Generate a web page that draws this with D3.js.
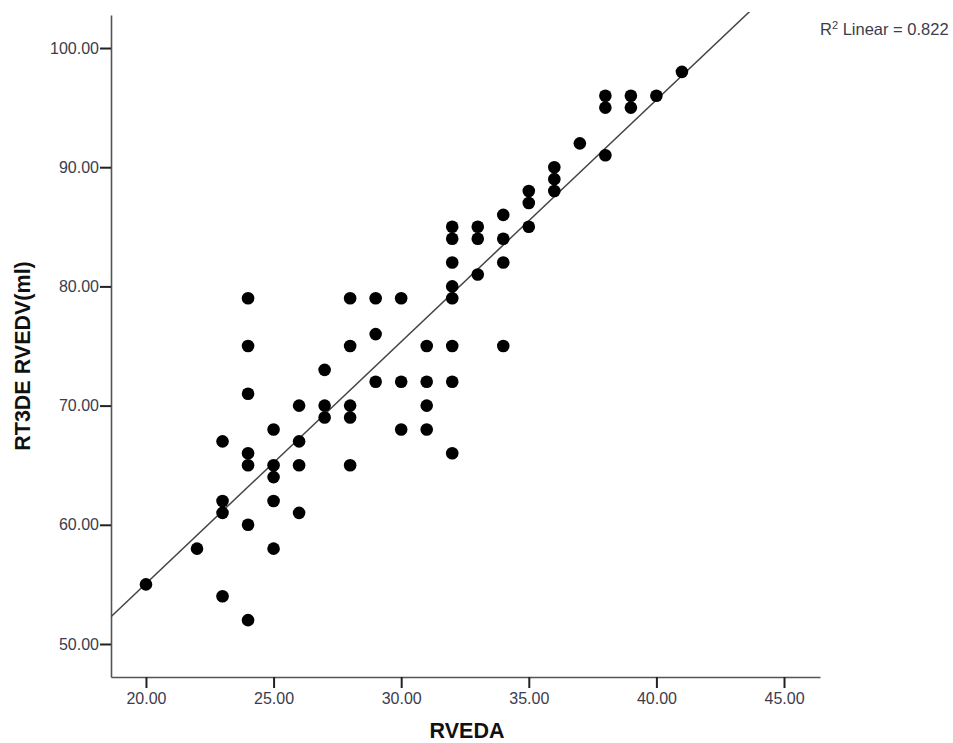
<!DOCTYPE html>
<html>
<head>
<meta charset="utf-8">
<script src="https://cdn.jsdelivr.net/npm/d3@7"></script>
<style>
  html, body { margin: 0; padding: 0; background: #fff; }
  svg { display: block; }
  text { font-family: "Liberation Sans", Arial, Helvetica, sans-serif; }
</style>
</head>
<body>
<svg id="chart" width="953" height="743"></svg>
<script>
// RVEDA values (x)
const rveda = [
  20,
  22,
  23, 23, 23, 23,
  24, 24, 24, 24, 24, 24, 24,
  25, 25, 25, 25, 25,
  26, 26, 26, 26,
  27, 27, 27,
  28, 28, 28, 28, 28,
  29, 29, 29,
  30, 30, 30,
  31, 31, 31, 31,
  32, 32, 32, 32, 32, 32, 32, 32,
  33, 33, 33,
  34, 34, 34, 34,
  35, 35, 35,
  36, 36, 36,
  37,
  38, 38, 38,
  39, 39,
  40,
  41
];
// RT3DE RVEDV(ml) values (y)
const rvedv = [
  55,
  58,
  67, 62, 61, 54,
  79, 75, 71, 66, 65, 60, 52,
  68, 65, 64, 62, 58,
  70, 67, 65, 61,
  73, 70, 69,
  79, 75, 70, 69, 65,
  79, 76, 72,
  79, 72, 68,
  75, 72, 70, 68,
  85, 84, 82, 80, 79, 75, 72, 66,
  85, 84, 81,
  86, 84, 82, 75,
  88, 87, 85,
  90, 89, 88,
  92,
  96, 95, 91,
  96, 95,
  96,
  98
];
const xTicks = [20, 25, 30, 35, 40, 45];
const yTicks = [50, 60, 70, 80, 90, 100];
const xDomain = [18.63, 46.41];
const yDomain = [47.23, 102.77];
// fitted line
const fitSlope = 2.029;
const fitIntercept = 14.49;
const rSquared = "0.822";

const svg = d3.select("#chart");
const x = d3.scaleLinear().domain(xDomain).range([111, 820]);
const y = d3.scaleLinear().domain(yDomain).range([677, 15]);

const tickColor = "#3c3c4c";

// Y axis
const yAxis = svg.append("g")
  .attr("transform", "translate(111,0)")
  .call(d3.axisLeft(y).tickValues(yTicks).tickFormat(d3.format(".2f")).tickSize(11).tickSizeOuter(0).tickPadding(1));
yAxis.select(".domain").attr("stroke", "#555").attr("stroke-width", 1.6);
yAxis.selectAll(".tick line").attr("stroke", "#222").attr("stroke-width", 2);
yAxis.selectAll(".tick text").attr("fill", tickColor).style("font-size", "16px")
  .attr("font-family", "'Liberation Sans', Arial, sans-serif");

// X axis
const xAxis = svg.append("g")
  .attr("transform", "translate(0,677)")
  .call(d3.axisBottom(x).tickValues(xTicks).tickFormat(d3.format(".2f")).tickSize(11).tickSizeOuter(0).tickPadding(5));
xAxis.select(".domain").attr("stroke", "#555").attr("stroke-width", 1.6);
xAxis.selectAll(".tick line").attr("stroke", "#222").attr("stroke-width", 2);
xAxis.selectAll(".tick text").attr("fill", tickColor).style("font-size", "16px")
  .attr("font-family", "'Liberation Sans', Arial, sans-serif");

// Clip for fit line
svg.append("clipPath").attr("id", "clip")
  .append("rect").attr("x", 111).attr("y", 12).attr("width", 709).attr("height", 665);

// Fit line
svg.append("line")
  .attr("clip-path", "url(#clip)")
  .attr("x1", x(xDomain[0])).attr("y1", y(fitIntercept + fitSlope * xDomain[0]))
  .attr("x2", x(xDomain[1])).attr("y2", y(fitIntercept + fitSlope * xDomain[1]))
  .attr("stroke", "#444").attr("stroke-width", 1.5);

// Points
svg.append("g").selectAll("circle")
  .data(rveda.map((v, i) => [v, rvedv[i]]))
  .join("circle")
  .attr("cx", d => x(d[0]))
  .attr("cy", d => y(d[1]))
  .attr("r", 6.3)
  .attr("fill", "#000");

// Axis titles
svg.append("text")
  .attr("x", 467).attr("y", 738)
  .attr("text-anchor", "middle")
  .attr("font-weight", "bold")
  .attr("font-size", "21.5px")
  .attr("fill", "#111")
  .text("RVEDA");

svg.append("text")
  .attr("transform", "translate(30,356) rotate(-90)")
  .attr("text-anchor", "middle")
  .attr("font-weight", "bold")
  .attr("font-size", "21.5px")
  .attr("fill", "#111")
  .text("RT3DE RVEDV(ml)");

// R squared annotation
const rt = svg.append("text")
  .attr("x", 820).attr("y", 35)
  .attr("font-size", "16.5px")
  .attr("fill", tickColor);
rt.append("tspan").text("R");
rt.append("tspan").attr("font-size", "11px").attr("dy", -6).text("2");
rt.append("tspan").attr("dy", 6).text(" Linear = " + rSquared);
</script>
</body>
</html>
